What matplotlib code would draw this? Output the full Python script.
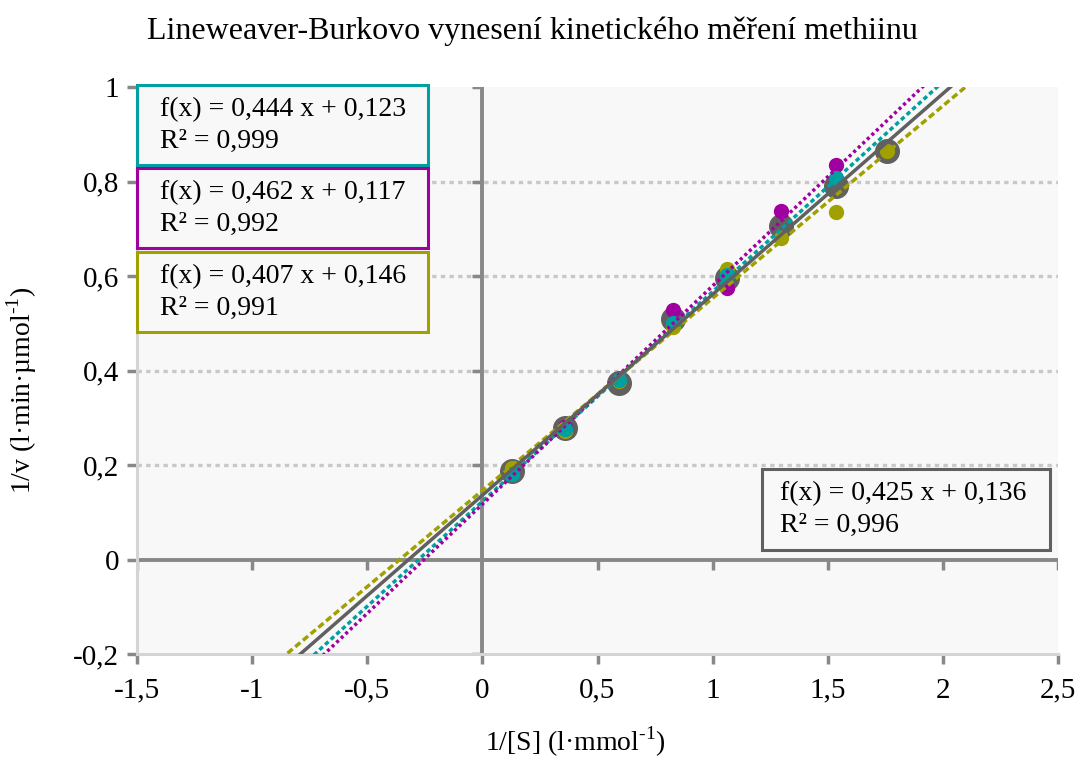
import numpy as np
import matplotlib
matplotlib.use("Agg")
import matplotlib.pyplot as plt
from matplotlib.patches import Rectangle
from matplotlib.ticker import FuncFormatter

plt.rcParams['font.family'] = ['Liberation Serif', 'DejaVu Serif']
plt.rcParams['mathtext.fontset'] = 'custom'
plt.rcParams['mathtext.rm'] = 'Liberation Serif'

# ---- data ----
x_vals = [0.129, 0.359, 0.593, 0.827, 1.062, 1.297, 1.536, 1.757]
y_cyan = [0.182, 0.277, 0.380, 0.500, 0.602, np.nan, 0.807, np.nan]
y_magenta = [0.188, 0.281, 0.378, 0.527, 0.575, 0.738, 0.835, np.nan]
y_olive = [0.193, 0.272, 0.377, 0.492, 0.615, 0.680, 0.736, 0.865]
y_mean = [0.187, 0.278, 0.373, 0.509, 0.596, 0.705, 0.791, 0.865]

fit_slopes = [0.444, 0.462, 0.407, 0.425]
fit_intercepts = [0.123, 0.117, 0.146, 0.136]
fit_r2 = [0.999, 0.992, 0.991, 0.996]

x_ticks = [-1.5, -1, -0.5, 0, 0.5, 1, 1.5, 2, 2.5]
y_ticks = [-0.2, 0, 0.2, 0.4, 0.6, 0.8, 1]

title = "Lineweaver-Burkovo vynesení kinetického měření methiinu"
xlabel = r"1/[S] (l·mmol$^{\mathregular{‐1}}$)"
ylabel = r"1/v (l·min·µmol$^{\mathregular{‐1}}$)"

# ---- style ----
C_CYAN = '#00a0a0'
C_MAG = '#a000a0'
C_OLI = '#a0a000'
C_GRAY = '#606060'
AX_GRAY = '#888888'
W, H = 1079, 762

fig = plt.figure(figsize=(W / 100, H / 100), dpi=100)
fig.patch.set_facecolor('white')


def fx(px):
    return px / W


def fy(py):
    return 1 - py / H


L, R, T, B = 137, 1058, 87, 654
ax = fig.add_axes([fx(L), fy(B), fx(R) - fx(L), fy(T) - fy(B)])
ax.set_facecolor('#f8f8f8')
ax.set_xlim(-1.5, 2.5)
ax.set_ylim(-0.2, 1.0)

for s in ['top', 'right']:
    ax.spines[s].set_visible(False)
for s in ['left', 'bottom']:
    ax.spines[s].set_color('#d4d4d4')
    ax.spines[s].set_linewidth(2.2)

fmt = FuncFormatter(lambda v, p: f'{v:g}'.replace('.', ','))
ax.set_xticks(x_ticks)
ax.set_yticks(y_ticks)
ax.xaxis.set_major_formatter(fmt)
ax.yaxis.set_major_formatter(fmt)
ax.tick_params(axis='both', colors=AX_GRAY, width=2.5, length=7,
               labelsize=21, labelcolor='black')
ax.tick_params(axis='x', pad=10)
ax.tick_params(axis='y', pad=6)

# grid
for yv in y_ticks:
    if yv not in (0, -0.2, 1):
        ax.axhline(yv, color='#c8c8c8', lw=2.4, ls=(0, (1.3, 1.3)), zorder=1)

# axis lines through origin
ax.axhline(0, color=AX_GRAY, lw=2.8, zorder=2)
ax.axvline(0, color=AX_GRAY, lw=2.8, zorder=2)
# ticks on the origin lines
ax.vlines([t for t in x_ticks if t != 0], 0, -0.022, color=AX_GRAY, lw=2.5, zorder=2)
ax.hlines([t for t in y_ticks if t != 0], -0.045, 0, color=AX_GRAY, lw=2.5, zorder=2)

# points
ax.plot(x_vals, y_mean, 'o', ms=17, color=C_GRAY, zorder=3)
ax.plot(x_vals, y_magenta, 'o', ms=10, color=C_MAG, zorder=4)
ax.plot(x_vals, y_olive, 'o', ms=10, color=C_OLI, zorder=4)
ax.plot(x_vals, y_cyan, 'o', ms=10, color=C_CYAN, zorder=5)

# trend lines
xl = np.array([-1.5, 2.5])
styles = [(C_CYAN, (0, (1.3, 0.9))), (C_MAG, (0, (0.9, 0.9))),
          (C_OLI, (0, (1.9, 1.0))), (C_GRAY, '-')]
for (c, ls), k, q in zip(styles, fit_slopes, fit_intercepts):
    ax.plot(xl, k * xl + q, color=c, ls=ls, lw=2.5, zorder=6)

# equation boxes
boxes = [(137, 85, 428, 165, C_CYAN, 160),
         (137, 168, 428, 248, C_MAG, 160),
         (137, 252, 428, 332, C_OLI, 160),
         (762, 469, 1050, 550, C_GRAY, 780)]
for (x0, y0, x1, y1, c, tx), k, q, r2 in zip(boxes, fit_slopes, fit_intercepts, fit_r2):
    fig.patches.append(Rectangle((fx(x0), fy(y1)), fx(x1) - fx(x0), fy(y0) - fy(y1),
                                 transform=fig.transFigure, facecolor='#f8f8f8',
                                 edgecolor=c, lw=2.2, zorder=10))
    t1 = f"f(x) = {k:.3f} x + {q:.3f}".replace('.', ',')
    t2 = f"R² = {r2:.3f}".replace('.', ',')
    fig.text(fx(tx), fy(y0 + 25), t1, fontsize=20, va='center', ha='left', zorder=11)
    fig.text(fx(tx), fy(y0 + 56), t2, fontsize=20, va='center', ha='left', zorder=11)

fig.text(fx(532), fy(31), title, fontsize=23, ha='center', va='center')
fig.text(fx(575), fy(742), xlabel, fontsize=20, ha='center', va='center')
fig.text(fx(22), fy(390), ylabel, fontsize=20, ha='center', va='center', rotation=90)

fig.savefig('out.png', dpi=100)
